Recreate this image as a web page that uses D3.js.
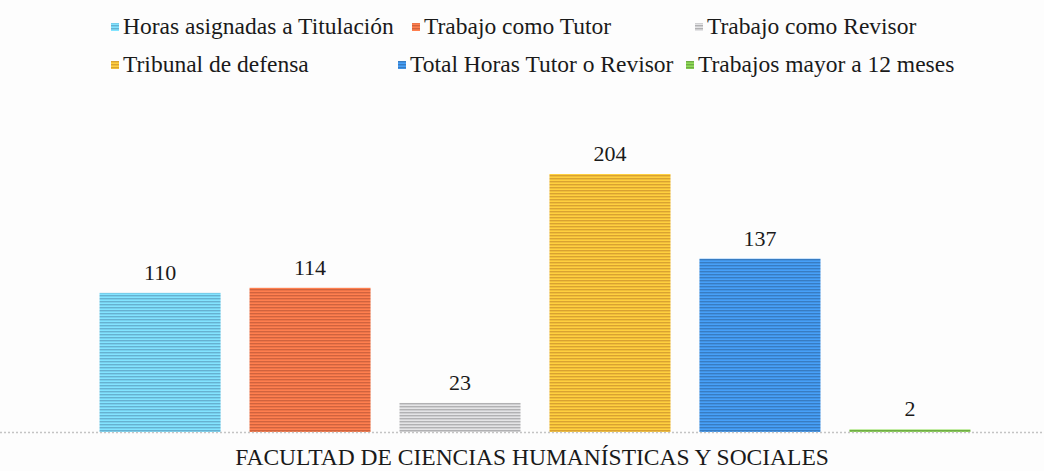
<!DOCTYPE html>
<html>
<head>
<meta charset="utf-8">
<script src="https://cdn.jsdelivr.net/npm/d3@7"></script>
<style>
  body { margin: 0; background: #fdfdfd; }
  svg text { font-family: "Liberation Serif", "Times New Roman", "DejaVu Serif", serif; }
</style>
</head>
<body>
<svg id="chart"></svg>
<script>
// series names, values and colours
var series = ["Horas asignadas a Titulación", "Trabajo como Tutor", "Trabajo como Revisor",
              "Tribunal de defensa", "Total Horas Tutor o Revisor", "Trabajos mayor a 12 meses"];
var values = [110, 114, 23, 204, 137, 2];
var colors = ["#74c9ec", "#ec7046", "#c9c9cb", "#f6b838", "#3f8ddc", "#7fc34e"];
var category = "FACULTAD DE CIENCIAS HUMANÍSTICAS Y SOCIALES";

var width = 1044, height = 471;
var svg = d3.select("#chart").attr("width", width).attr("height", height);
var serif = "'Liberation Serif', 'Times New Roman', serif";

var baseY = 432;
var x = d3.scaleBand().domain(series).range([85, 985]).paddingInner(0.193).paddingOuter(0.097);
var y = d3.scaleLinear().domain([0, 204]).range([baseY, 174]);

// striped fills like the printed chart
var defs = svg.append("defs");
series.forEach(function(s, i) {
    var c = d3.color(colors[i]);
    var p = defs.append("pattern")
        .attr("id", "pat" + i)
        .attr("patternUnits", "userSpaceOnUse")
        .attr("width", 4).attr("height", 3);
    p.append("rect").attr("width", 4).attr("height", 3).attr("fill", c.brighter(0.35));
    p.append("rect").attr("y", 1).attr("width", 4).attr("height", 1.4).attr("fill", c.darker(0.35));
});

svg.append("g")
    .selectAll("rect")
    .data(values)
    .enter()
    .append("rect")
    .attr("x", function(d, i) { return x(series[i]); })
    .attr("y", function(d) { return y(d); })
    .attr("width", x.bandwidth())
    .attr("height", function(d) { return baseY - y(d); })
    .attr("fill", function(d, i) { return "url(#pat" + i + ")"; });

// value labels
svg.append("g")
    .selectAll("text")
    .data(values)
    .enter()
    .append("text")
    .attr("x", function(d, i) { return x(series[i]) + x.bandwidth() / 2; })
    .attr("y", function(d) { return y(d) - 13; })
    .attr("text-anchor", "middle")
    .attr("font-family", serif)
    .attr("font-size", 22)
    .attr("fill", "#1a1a1a")
    .text(function(d) { return d; });

// baseline
svg.append("line")
    .attr("x1", 0).attr("x2", width)
    .attr("y1", baseY + 0.5).attr("y2", baseY + 0.5)
    .attr("stroke", "#c4c4c4")
    .attr("stroke-width", 1.5)
    .attr("stroke-dasharray", "2,2");

svg.append("text")
    .attr("x", 532).attr("y", 465)
    .attr("text-anchor", "middle")
    .attr("font-family", serif)
    .attr("font-size", 23.5)
    .attr("fill", "#1a1a1a")
    .text(category);

// legend, two rows of three
var legX = [[111, 412, 695], [111, 398, 686]];
var legend = svg.append("g");
series.forEach(function(s, i) {
    var row = Math.floor(i / 3), col = i % 3;
    var lx = legX[row][col], ly = 34 + row * 38;
    legend.append("rect")
        .attr("x", lx).attr("y", ly - 11)
        .attr("width", 8).attr("height", 8)
        .attr("fill", "url(#pat" + i + ")");
    legend.append("text")
        .attr("x", lx + 12).attr("y", ly)
        .attr("font-family", serif)
        .attr("font-size", 23.5)
        .attr("fill", "#1a1a1a")
        .text(s);
});
</script>
</body>
</html>
